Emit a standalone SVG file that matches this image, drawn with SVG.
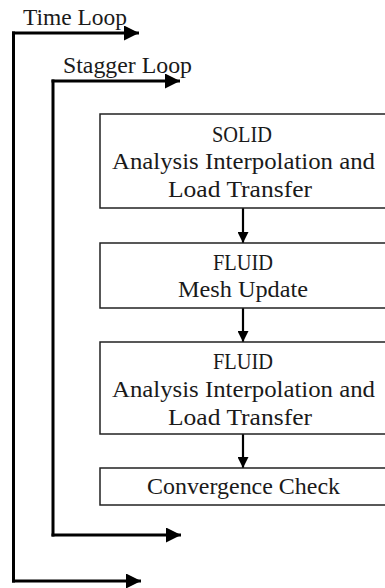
<svg xmlns="http://www.w3.org/2000/svg" width="385" height="588" viewBox="0 0 385 588">
  <defs>
    <marker id="arrow" viewBox="0 0 10 10" refX="10" refY="5" markerWidth="5" markerHeight="5" orient="auto" markerUnits="strokeWidth">
      <path d="M0,0 L10,5 L0,10 z" fill="#000"/>
    </marker>
    <style>
      text { font-family: "Liberation Serif", "Times New Roman", serif; font-size: 23px; fill: #1a1a1a; }
      .c { text-anchor: middle; }
      .box { fill: #fff; stroke: #222; stroke-width: 1.5; }
      .rail { fill: none; stroke: #000; stroke-width: 3; }
      .loop { fill: none; stroke: #000; stroke-width: 3; marker-end: url(#arrow); }
      .flow { fill: none; stroke: #000; stroke-width: 2.2; marker-end: url(#arrow); }
    </style>
  </defs>
  <rect width="385" height="588" fill="#fff"/>

  <!-- loop rails, loop arrows and flow arrows between the boxes -->
  <g id="connectors">
    <path class="rail" d="M13.5,31.5 V582.5"/>
    <path class="loop" d="M12,33 H139"/>
    <path class="loop" d="M12,581 H141"/>
    <path class="rail" d="M53,79.5 V536.5"/>
    <path class="loop" d="M51.5,81 H180"/>
    <path class="loop" d="M51.5,535 H181"/>
    <path class="flow" d="M243,208 V243"/>
    <path class="flow" d="M243,308 V342"/>
    <path class="flow" d="M243,434 V468"/>
  </g>

  <g id="labels">
    <text x="23" y="25" textLength="104" lengthAdjust="spacingAndGlyphs">Time Loop</text>
    <text x="63" y="73" textLength="129" lengthAdjust="spacingAndGlyphs">Stagger Loop</text>
  </g>

  <g id="solid">
    <rect class="box" x="100" y="114" width="290" height="94"/>
    <text class="c" x="242" y="142" textLength="60" lengthAdjust="spacingAndGlyphs">SOLID</text>
    <text class="c" x="243.5" y="169" textLength="263" lengthAdjust="spacingAndGlyphs">Analysis Interpolation and</text>
    <text class="c" x="240" y="197" textLength="144" lengthAdjust="spacingAndGlyphs">Load Transfer</text>
  </g>

  <g id="fluid-mesh">
    <rect class="box" x="100" y="243" width="290" height="65"/>
    <text class="c" x="243" y="270" textLength="60" lengthAdjust="spacingAndGlyphs">FLUID</text>
    <text class="c" x="243" y="297" textLength="130" lengthAdjust="spacingAndGlyphs">Mesh Update</text>
  </g>

  <g id="fluid-analysis">
    <rect class="box" x="100" y="342" width="290" height="92"/>
    <text class="c" x="243" y="369" textLength="60" lengthAdjust="spacingAndGlyphs">FLUID</text>
    <text class="c" x="243.5" y="397" textLength="263" lengthAdjust="spacingAndGlyphs">Analysis Interpolation and</text>
    <text class="c" x="240" y="425" textLength="144" lengthAdjust="spacingAndGlyphs">Load Transfer</text>
  </g>

  <g id="convergence">
    <rect class="box" x="100" y="468" width="290" height="37"/>
    <text class="c" x="243.5" y="494" textLength="193" lengthAdjust="spacingAndGlyphs">Convergence Check</text>
  </g>
</svg>
